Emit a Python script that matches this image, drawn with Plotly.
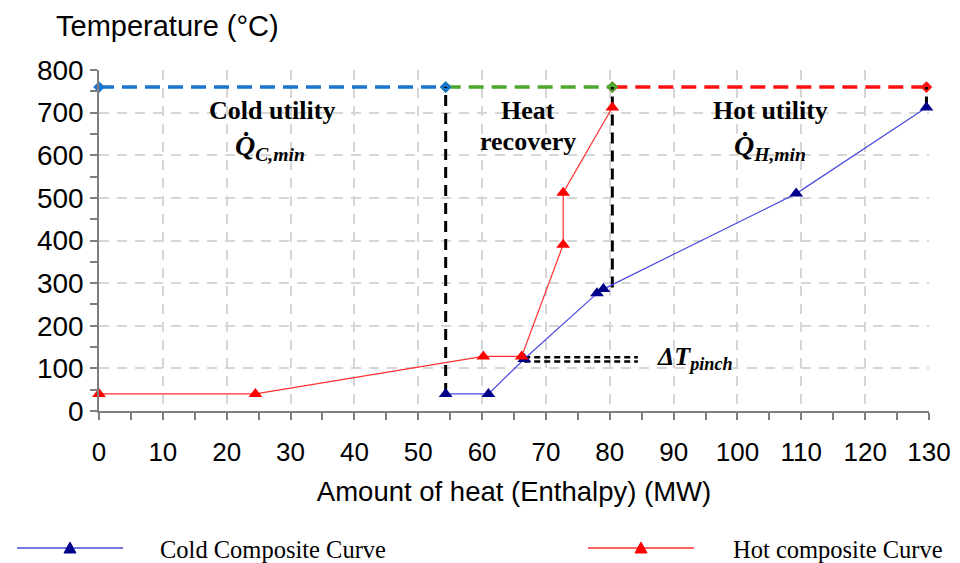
import plotly.graph_objects as go

# ---------------- data ----------------
cold_x = [54.3, 61.0, 66.6, 78.0, 79.0, 109.2, 129.6]
cold_y = [40, 40, 122, 276, 286, 510, 712]

hot_x = [0.0, 24.5, 60.2, 66.2, 72.7, 72.7, 80.4]
hot_y = [40, 40, 128, 128, 390, 512, 712]

utility_T = 760
cold_util_x = [0.0, 54.3]
recovery_x = [54.3, 80.4]
hot_util_x = [80.4, 129.6]

pinch_x = [66.6, 84.4]
pinch_y = [126, 116]

x_ticks = list(range(0, 131, 10))
y_ticks = list(range(0, 801, 100))

# ---------------- layout geometry ----------------
W, H = 960, 563
L, R, T, B = 99, 31, 70, 152
PW, PH = W - L - R, H - T - B


def px(xp):
    return (xp - L) / PW


def py(yp):
    return (H - B - yp) / PH


fig = go.Figure()

# utility lines (drawn red, green, blue so markers overlap like the reference)
for xs, col in [(hot_util_x, "#ff1010"), (recovery_x, "#4ea72e"), (cold_util_x, "#1874cd")]:
    fig.add_trace(go.Scatter(
        x=xs, y=[utility_T, utility_T], mode="lines+markers",
        line=dict(color=col, width=3.5, dash="15px,8px"),
        marker=dict(symbol="diamond", size=9, color=col),
        cliponaxis=False, showlegend=False, hoverinfo="skip"))

# vertical black dashed lines
black_dash = dict(color="black", width=3, dash="11px,7px")
fig.add_trace(go.Scatter(x=[cold_util_x[1], cold_util_x[1]], y=[cold_y[0], utility_T], mode="lines",
                         line=black_dash, showlegend=False, hoverinfo="skip"))
fig.add_trace(go.Scatter(x=[recovery_x[1], recovery_x[1]], y=[290, utility_T], mode="lines",
                         line=black_dash, showlegend=False, hoverinfo="skip"))
fig.add_trace(go.Scatter(x=[hot_util_x[1], hot_util_x[1]], y=[cold_y[-1], utility_T], mode="lines",
                         line=black_dash, showlegend=False, hoverinfo="skip", cliponaxis=False))

# pinch double dashed line
for yv in pinch_y:
    fig.add_trace(go.Scatter(x=pinch_x, y=[yv, yv], mode="lines",
                             line=dict(color="black", width=2.5, dash="6px,4px"),
                             showlegend=False, hoverinfo="skip"))

# composite curves
fig.add_trace(go.Scatter(x=cold_x, y=cold_y, mode="lines+markers", name="Cold Composite Curve",
                         line=dict(color="#4a4ae0", width=1.2),
                         marker=dict(symbol="triangle-up", size=12, color="#00008b"),
                         cliponaxis=False, showlegend=False))
fig.add_trace(go.Scatter(x=hot_x, y=hot_y, mode="lines+markers", name="Hot composite Curve",
                         line=dict(color="#ff3030", width=1.2),
                         marker=dict(symbol="triangle-up", size=12, color="#ff0000"),
                         cliponaxis=False, showlegend=False))

serif = "Liberation Serif, Times New Roman, serif"
sans = "Liberation Sans, Arial, sans-serif"

ann = []


def txt(x, y, s, size=26, xanchor="center", xref="x", yref="y"):
    ann.append(dict(x=x, y=y, xref=xref, yref=yref, text=s, showarrow=False,
                    xanchor=xanchor, yanchor="middle",
                    font=dict(family=serif, size=size, color="black")))


txt(27.1, 706, "<b>Cold utility</b>")
txt(26.8, 618, "<b><i>Q̇</i></b><b><i><sub>C,min</sub></i></b>", size=28)
txt(67.2, 706, "<b>Heat</b>")
txt(67.2, 632, "<b>recovery</b>")
txt(105.1, 706, "<b>Hot utility</b>")
txt(105.1, 618, "<b><i>Q̇</i></b><b><i><sub>H,min</sub></i></b>", size=28)
txt(87.1, 124, "<b><i>ΔT</i></b><b><i><sub>pinch</sub></i></b>", size=26, xanchor="left")

# y axis title at top-left
ann.append(dict(x=px(54), y=py(26), xref="paper", yref="paper", text="Temperature (°C)",
                showarrow=False, xanchor="left", yanchor="middle",
                font=dict(family=sans, size=29, color="black")))

# manual legend
shapes = []
leg_y = py(548)
for (x0, x1, xt, lc, mc, label) in [
        (17, 123, 158, "#4a4ae0", "#00008b", "Cold Composite Curve"),
        (588, 694, 731, "#ff3030", "#ff0000", "Hot composite Curve")]:
    shapes.append(dict(type="line", xref="paper", yref="paper", x0=px(x0), x1=px(x1),
                       y0=leg_y, y1=leg_y, line=dict(color=lc, width=1.5)))
    shapes.append(dict(type="path", xref="paper", yref="paper", xsizemode="pixel", ysizemode="pixel",
                       xanchor=px((x0 + x1) / 2), yanchor=leg_y,
                       path="M -6,-5 L 6,-5 L 0,6 Z", fillcolor=mc, line=dict(color=mc, width=1)))
    ann.append(dict(x=px(xt), y=py(549), xref="paper", yref="paper", text=label, showarrow=False,
                    xanchor="left", yanchor="middle",
                    font=dict(family=serif, size=24.5, color="black")))

axis_common = dict(
    showline=True, linecolor="#7f7f7f", linewidth=1.5,
    ticks="outside", ticklen=7, tickcolor="#7f7f7f", tickwidth=1.5,
    showgrid=True, gridcolor="#d6d6d6", gridwidth=2, griddash="10px,8px",
    zeroline=False,
)

fig.update_layout(
    width=W, height=H,
    margin=dict(l=L, r=R, t=T, b=B, autoexpand=False),
    paper_bgcolor="white", plot_bgcolor="white",
    xaxis=dict(range=[0, 130], tickvals=x_ticks, ticktext=[str(v) for v in x_ticks],
               tickfont=dict(family=sans, size=26, color="black"), ticklabelstandoff=10,
               minor=dict(dtick=5, tick0=0, ticks="outside", ticklen=7, tickcolor="#7f7f7f", tickwidth=1.5,
                          showgrid=False),
               title=dict(text="Amount of heat (Enthalpy) (MW)", font=dict(family=sans, size=27.5, color="black"),
                          standoff=16),
               automargin=False,
               **axis_common),
    yaxis=dict(range=[0, 800], tickvals=y_ticks, ticktext=[str(v) for v in y_ticks],
               tickfont=dict(family=sans, size=28, color="black"), ticklabelstandoff=1,
               minor=dict(dtick=50, tick0=0, ticks="outside", ticklen=7, tickcolor="#7f7f7f", tickwidth=1.5,
                          showgrid=False),
               automargin=False,
               **axis_common),
    annotations=ann,
    shapes=shapes,
    showlegend=False,
)

fig.write_html("out.html", config={"displayModeBar": False},
               post_script="document.body.style.margin='0';document.body.style.overflow='hidden';")
